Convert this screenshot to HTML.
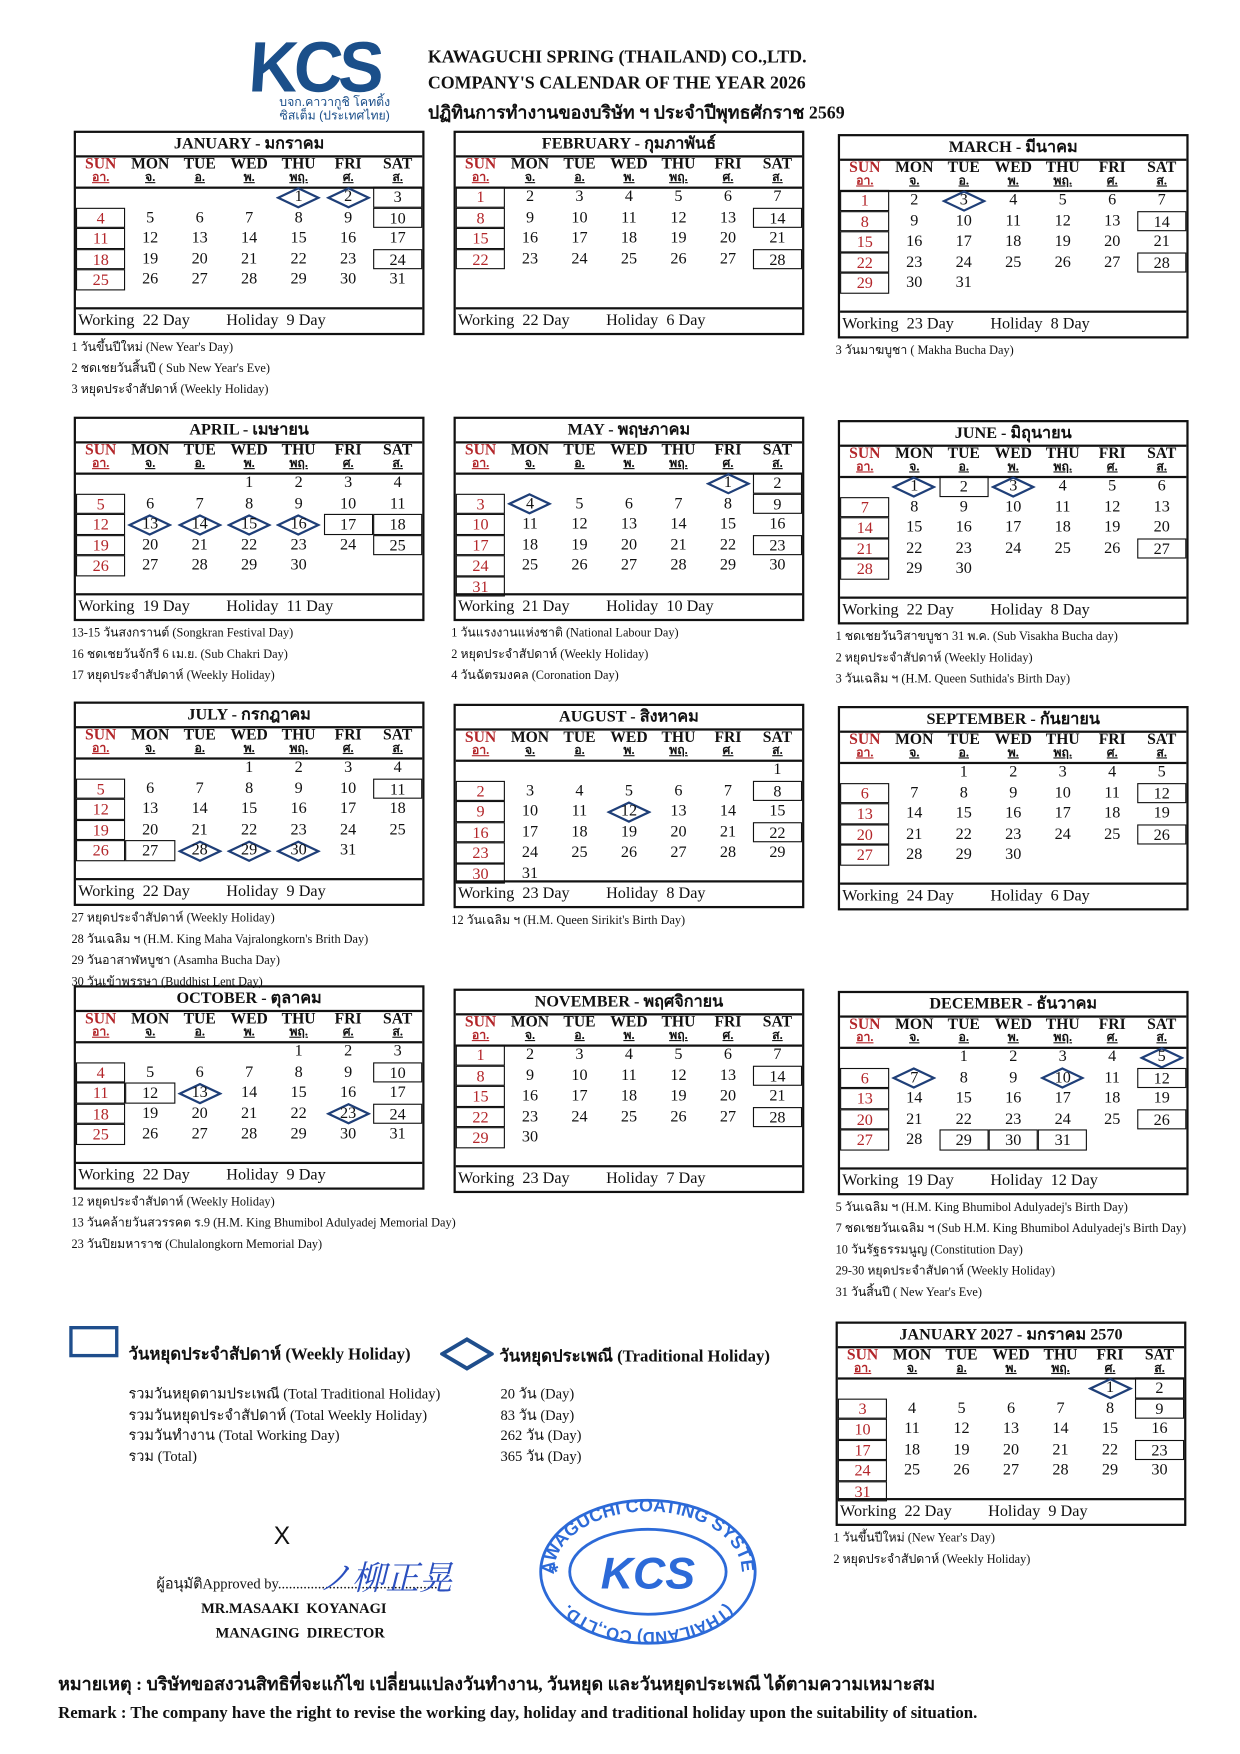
<!DOCTYPE html>
<html><head><meta charset="utf-8">
<style>
html,body{margin:0;padding:0;background:#fff;}
body{width:1240px;height:1754px;overflow:hidden;position:relative;font-family:"Liberation Serif","Noto Serif CJK SC",serif;color:#111;}
#page{position:absolute;left:0;top:0;width:1110px;height:1570px;transform:scale(1.1171);transform-origin:0 0;}
.abs{position:absolute;white-space:nowrap;}
.box{position:absolute;width:314px;height:183px;border:2px solid #111;box-sizing:border-box;}
.ttl{position:absolute;left:0;right:0;top:0;height:20px;border-bottom:2px solid #111;text-align:center;font-weight:bold;font-size:14.5px;line-height:20px;}
.hdr{position:absolute;left:0;right:0;top:20px;height:28px;border-bottom:2px solid #111;}
.hd{position:absolute;width:44.3px;text-align:center;font-weight:bold;font-size:14px;line-height:14px;}
.hd2{position:absolute;width:44.3px;text-align:center;font-size:11px;font-weight:bold;line-height:11px;text-decoration:underline;}
.ftr{position:absolute;left:0;right:0;bottom:0;height:21px;border-top:2px solid #111;font-size:14.5px;line-height:21px;padding-left:2px;}
.num{position:absolute;width:44.3px;height:18.5px;text-align:center;font-size:14.5px;line-height:18.5px;box-sizing:border-box;}
.bx{border:1.6px solid #111;}
.red{color:#b3262a;}
.note{position:absolute;font-size:11px;white-space:nowrap;}
</style></head>
<body>
<div id="page">
  <div class="abs" style="left:220px;top:28px;font-family:'Liberation Sans',sans-serif;font-weight:bold;font-size:64px;color:#1b4f8a;letter-spacing:-4px;line-height:64px;transform:scaleX(0.95) skewX(-4deg);">KCS</div>
  <div class="abs" style="left:250px;top:86px;font-size:11px;line-height:12px;color:#1b4f8a;font-family:'Liberation Sans',sans-serif;text-align:center;">บจก.คาวากูชิ โคทติ้ง<br>ซิสเต็ม (ประเทศไทย)</div>
  <div class="abs" style="left:383px;top:43px;font-weight:bold;font-size:16px;">KAWAGUCHI SPRING (THAILAND) CO.,LTD.</div>
  <div class="abs" style="left:383px;top:66px;font-weight:bold;font-size:16px;">COMPANY'S CALENDAR OF THE YEAR 2026</div>
  <div class="abs" style="left:383px;top:89px;font-weight:bold;font-size:16px;">ปฏิทินการทำงานของบริษัท ฯ ประจำปีพุทธศักราช 2569</div>

  <div class="abs" style="left:62px;top:1187px;width:44px;height:28px;border:3px solid #1f4e8c;box-sizing:border-box;"></div>
  <div class="abs" style="left:115px;top:1200px;font-weight:bold;font-size:15px;">วันหยุดประจำสัปดาห์ (Weekly Holiday)</div>
  <svg class="abs" style="left:394px;top:1196px;" width="48" height="32"><polygon points="2,16 24,3 46,16 24,29" fill="none" stroke="#1f4e8c" stroke-width="3.5"/></svg>
  <div class="abs" style="left:447px;top:1202px;font-weight:bold;font-size:15px;">วันหยุดประเพณี (Traditional Holiday)</div>

  <div class="abs" style="left:115px;top:1239px;font-size:13px;line-height:18.5px;">รวมวันหยุดตามประเพณี (Total Traditional Holiday)<br>รวมวันหยุดประจำสัปดาห์ (Total Weekly Holiday)<br>รวมวันทำงาน (Total Working Day)<br>รวม (Total)</div>
  <div class="abs" style="left:448px;top:1239px;font-size:13px;line-height:18.5px;">20 วัน (Day)<br>83 วัน (Day)<br>262 วัน (Day)<br>365 วัน (Day)</div>

  <div class="abs" style="left:245px;top:1362px;font-size:22px;font-family:'Liberation Sans',sans-serif;">X</div>
  <div class="abs" style="left:140px;top:1407px;font-size:13px;">ผู้อนุมัติApproved by.............................................</div>
  <div class="abs" style="left:285px;top:1388px;font-size:30px;color:#2a4fbf;font-family:'Noto Serif CJK SC',serif;font-style:italic;">ノ柳正晃</div>
  <div class="abs" style="left:180px;top:1432px;font-weight:bold;font-size:13px;">MR.MASAAKI&nbsp; KOYANAGI</div>
  <div class="abs" style="left:193px;top:1454px;font-weight:bold;font-size:13px;">MANAGING&nbsp; DIRECTOR</div>

  <svg class="abs" style="left:480px;top:1340px;" width="200" height="134" viewBox="0 0 200 134">
    <defs>
      <path id="topArc" d="M16,67 A84,54 0 0 1 184,67"/>
      <path id="botArc" d="M30,80 A72,44 0 0 0 170,80"/>
    </defs>
    <ellipse cx="100" cy="67" rx="96" ry="64" fill="none" stroke="#2c6ad8" stroke-width="2.5"/>
    <ellipse cx="100" cy="67" rx="70" ry="38" fill="none" stroke="#2c6ad8" stroke-width="2.5"/>
    <text font-family="Liberation Sans,sans-serif" font-weight="bold" font-size="16" fill="#2c6ad8"><textPath href="#topArc" startOffset="50%" text-anchor="middle">KAWAGUCHI COATING SYSTEM</textPath></text>
    <text font-family="Liberation Sans,sans-serif" font-weight="bold" font-size="15" fill="#2c6ad8" transform="rotate(180 100 67)"><textPath href="#topArc" startOffset="50%" text-anchor="middle">(THAILAND) CO.,LTD.</textPath></text>
    <text x="100" y="82" text-anchor="middle" font-family="Liberation Sans,sans-serif" font-weight="bold" font-style="italic" font-size="40" fill="#2c6ad8">KCS</text>
    <text x="12" y="74" font-family="Liberation Sans,sans-serif" font-weight="bold" font-size="20" fill="#2c6ad8">*</text>
  </svg>

  <div class="abs" style="left:52px;top:1496px;font-weight:bold;font-size:16px;">หมายเหตุ : บริษัทขอสงวนสิทธิที่จะแก้ไข เปลี่ยนแปลงวันทำงาน, วันหยุด และวันหยุดประเพณี ได้ตามความเหมาะสม</div>
  <div class="abs" style="left:52px;top:1526px;font-weight:bold;font-size:15px;">Remark : The company have the right to revise the working day, holiday and traditional holiday upon the suitability of situation.</div>
</div>

<script>
const monthTitles = ["JANUARY - มกราคม","FEBRUARY - กุมภาพันธ์","MARCH - มีนาคม","APRIL - เมษายน","MAY - พฤษภาคม","JUNE - มิถุนายน","JULY - กรกฎาคม","AUGUST - สิงหาคม","SEPTEMBER - กันยายน","OCTOBER - ตุลาคม","NOVEMBER - พฤศจิกายน","DECEMBER - ธันวาคม","JANUARY 2027 - มกราคม 2570"];
const startDays = [4,0,0,3,5,1,3,6,2,4,0,2,5];
const monthLengths = [31,28,31,30,31,30,31,31,30,31,30,31,31];
const boxedDays = [[3,10,24],[14,28],[14,28],[17,18,25],[2,9,23],[2,27],[11,27],[8,22],[12,26],[10,12,24],[14,28],[12,26,29,30,31],[2,9,23]];
const diamondDays = [[1,2],[],[3],[13,14,15,16],[1,4],[1,3],[28,29,30],[12],[],[13,23],[],[5,7,10],[1]];
const workingDays = [22,22,23,19,21,22,22,23,24,22,23,19,22];
const holidayDays = [9,6,8,11,10,8,9,8,6,9,7,12,9];
const monthNotes = [
 ["1  วันขึ้นปีใหม่ (New Year's Day)","2  ชดเชยวันสิ้นปี ( Sub New Year's Eve)","3 หยุดประจำสัปดาห์ (Weekly Holiday)"],
 [],
 ["3  วันมาฆบูชา ( Makha Bucha Day)"],
 ["13-15 วันสงกรานต์ (Songkran Festival Day)","16  ชดเชยวันจักรี 6 เม.ย. (Sub Chakri Day)","17 หยุดประจำสัปดาห์ (Weekly Holiday)"],
 ["1 วันแรงงานแห่งชาติ (National Labour Day)","2 หยุดประจำสัปดาห์ (Weekly Holiday)","4 วันฉัตรมงคล (Coronation Day)"],
 ["1 ชดเชยวันวิสาขบูชา 31 พ.ค. (Sub Visakha Bucha day)","2  หยุดประจำสัปดาห์ (Weekly Holiday)","3  วันเฉลิม ฯ (H.M. Queen Suthida's Birth Day)"],
 ["27 หยุดประจำสัปดาห์ (Weekly Holiday)","28  วันเฉลิม ฯ (H.M. King Maha Vajralongkorn's Brith Day)","29 วันอาสาฬหบูชา (Asamha Bucha Day)","30 วันเข้าพรรษา (Buddhist Lent Day)"],
 ["12  วันเฉลิม ฯ (H.M. Queen Sirikit's Birth Day)"],
 [],
 ["12 หยุดประจำสัปดาห์ (Weekly Holiday)","13 วันคล้ายวันสวรรคต ร.9 (H.M. King Bhumibol Adulyadej Memorial Day)","23 วันปิยมหาราช (Chulalongkorn Memorial Day)"],
 [],
 ["5 วันเฉลิม ฯ (H.M. King Bhumibol Adulyadej's Birth Day)","7 ชดเชยวันเฉลิม ฯ (Sub H.M. King Bhumibol Adulyadej's Birth Day)","10  วันรัฐธรรมนูญ  (Constitution Day)","29-30 หยุดประจำสัปดาห์ (Weekly Holiday)","31 วันสิ้นปี  ( New Year's Eve)"],
 ["1  วันขึ้นปีใหม่ (New Year's Day)","2 หยุดประจำสัปดาห์ (Weekly Holiday)"]
];
const boxLeft = [66,406,750,66,406,750,66,406,750,66,406,750,748];
const boxTop = [117,117,120,373,373,376,628,630,632,882,885,887,1183];
const dayEn = ["SUN","MON","TUE","WED","THU","FRI","SAT"];
const dayTh = ["อา.","จ.","อ.","พ.","พฤ.","ศ.","ส."];

const page = document.getElementById('page');
const colW = 44.3, rowH = 18.5, rowTop = 48;

for (let m = 0; m < monthTitles.length; m++) {
  const box = document.createElement('div');
  box.className = 'box';
  box.style.left = boxLeft[m] + 'px';
  box.style.top = boxTop[m] + 'px';
  
  
  page.appendChild(box);

  const t = document.createElement('div');
  t.className = 'ttl';
  t.textContent = monthTitles[m];
  
  
  box.appendChild(t);

  const h = document.createElement('div');
  h.className = 'hdr';
  
  
  box.appendChild(h);
  for (let d = 0; d < 7; d++) {
    const a = document.createElement('div');
    a.className = 'hd' + (d === 0 ? ' red' : '');
    a.style.left = (d * colW) + 'px';
    a.style.top = '2px';
    a.textContent = dayEn[d];
    
    
    h.appendChild(a);
    const b = document.createElement('div');
    b.className = 'hd2' + (d === 0 ? ' red' : '');
    b.style.left = (d * colW) + 'px';
    b.style.top = '15px';
    b.textContent = dayTh[d];
    
    
    h.appendChild(b);
  }

  for (let day = 1; day <= monthLengths[m]; day++) {
    const idx = startDays[m] + day - 1;
    const col = idx % 7, row = Math.floor(idx / 7);
    const isDia = diamondDays[m].indexOf(day) >= 0;
    const isBox = col === 0 || boxedDays[m].indexOf(day) >= 0;
    const x = col * colW, y = rowTop + row * rowH;
    if (isDia) {
      const s = document.createElementNS('http://www.w3.org/2000/svg', 'svg');
      s.setAttribute('width', '40'); s.setAttribute('height', '20');
      s.style.position = 'absolute';
      s.style.left = (x + colW / 2 - 20) + 'px';
      s.style.top = (y - 0.5) + 'px';
      
      
      const p = document.createElementNS('http://www.w3.org/2000/svg', 'polygon');
      p.setAttribute('points', '2,10 20,1.5 38,10 20,18.5');
      p.setAttribute('fill', 'none'); p.setAttribute('stroke', '#1f3f78'); p.setAttribute('stroke-width', '2');
      s.appendChild(p);
      box.appendChild(s);
    }
    const c = document.createElement('div');
    c.className = 'num' + (isBox && !isDia ? ' bx' : '') + (col === 0 ? ' red' : '');
    c.style.left = x + 'px';
    c.style.top = y + 'px';
    c.textContent = day;
    
    
    box.appendChild(c);
  }

  const f = document.createElement('div');
  f.className = 'ftr';
  f.innerHTML = 'Working&nbsp; ' + workingDays[m] + ' Day&nbsp;&nbsp;&nbsp;&nbsp;&nbsp;&nbsp;&nbsp;&nbsp; Holiday&nbsp; ' + holidayDays[m] + ' Day';
  
  
  box.appendChild(f);

  for (let n = 0; n < monthNotes[m].length; n++) {
    const nd = document.createElement('div');
    nd.className = 'note';
    nd.style.left = (boxLeft[m] - 2) + 'px';
    nd.style.top = (boxTop[m] + 184 + n * 19) + 'px';
    nd.textContent = monthNotes[m][n];
    
    
    page.appendChild(nd);
  }
}
</script>
</body></html>
